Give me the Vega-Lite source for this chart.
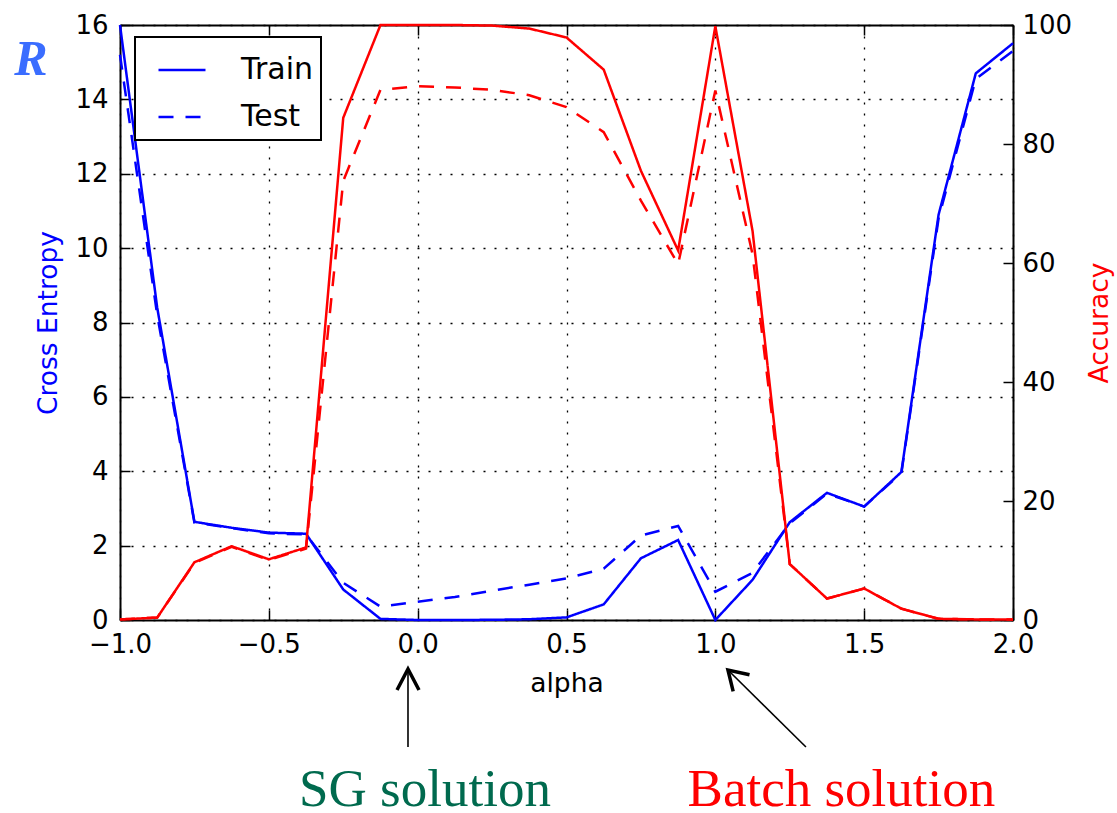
{
  "$schema": "https://vega.github.io/schema/vega-lite/v6.json",
  "width": 893,
  "height": 595,
  "autosize": "none",
  "padding": {"left": 120, "top": 25, "right": 104, "bottom": 193},
  "background": "white",
  "config": {
    "view": {"stroke": null},
    "font": "DejaVu Sans",
    "axis": {"labelFont": "DejaVu Sans", "titleFont": "DejaVu Sans", "titleFontWeight": "normal", "labelColor": "black", "tickColor": "black", "tickWidth": 1.5, "domainColor": "black", "domainWidth": 2, "labelFlush": false, "labelOverlap": false, "labelFontSize": 26, "titleFontSize": 26.5},
    "legend": {"orient": "none", "legendX": 15, "legendY": 12, "symbolType": "stroke", "symbolStrokeWidth": 2.5, "symbolSize": 2209, "symbolStrokeColor": "#0000ff", "symbolOffset": 14, "labelFontSize": 30, "labelFont": "DejaVu Sans", "labelColor": "black", "labelOffset": 34, "strokeColor": "black", "strokeWidth": 2, "padding": 8, "rowPadding": 7, "fillColor": "white"}
  },
  "datasets": {
    "ce": [
      {"alpha": -1, "split": "Train", "ce": 16.0}, {"alpha": -0.875, "split": "Train", "ce": 8.4}, {"alpha": -0.75, "split": "Train", "ce": 2.64}, {"alpha": -0.625, "split": "Train", "ce": 2.48}, {"alpha": -0.5, "split": "Train", "ce": 2.35}, {"alpha": -0.375, "split": "Train", "ce": 2.32}, {"alpha": -0.25, "split": "Train", "ce": 0.82}, {"alpha": -0.125, "split": "Train", "ce": 0.03}, {"alpha": 0, "split": "Train", "ce": 0.0}, {"alpha": 0.125, "split": "Train", "ce": 0.0}, {"alpha": 0.25, "split": "Train", "ce": 0.005}, {"alpha": 0.375, "split": "Train", "ce": 0.02}, {"alpha": 0.5, "split": "Train", "ce": 0.07}, {"alpha": 0.625, "split": "Train", "ce": 0.42}, {"alpha": 0.75, "split": "Train", "ce": 1.66}, {"alpha": 0.875, "split": "Train", "ce": 2.15}, {"alpha": 1, "split": "Train", "ce": 0.0}, {"alpha": 1.125, "split": "Train", "ce": 1.08}, {"alpha": 1.25, "split": "Train", "ce": 2.63}, {"alpha": 1.375, "split": "Train", "ce": 3.42}, {"alpha": 1.5, "split": "Train", "ce": 3.05}, {"alpha": 1.625, "split": "Train", "ce": 3.98}, {"alpha": 1.75, "split": "Train", "ce": 10.9}, {"alpha": 1.875, "split": "Train", "ce": 14.7}, {"alpha": 2, "split": "Train", "ce": 15.51},
      {"alpha": -1, "split": "Test", "ce": 15.2}, {"alpha": -0.875, "split": "Test", "ce": 8.2}, {"alpha": -0.75, "split": "Test", "ce": 2.62}, {"alpha": -0.625, "split": "Test", "ce": 2.47}, {"alpha": -0.5, "split": "Test", "ce": 2.33}, {"alpha": -0.375, "split": "Test", "ce": 2.3}, {"alpha": -0.25, "split": "Test", "ce": 1.0}, {"alpha": -0.125, "split": "Test", "ce": 0.36}, {"alpha": 0, "split": "Test", "ce": 0.49}, {"alpha": 0.125, "split": "Test", "ce": 0.62}, {"alpha": 0.25, "split": "Test", "ce": 0.79}, {"alpha": 0.375, "split": "Test", "ce": 0.95}, {"alpha": 0.5, "split": "Test", "ce": 1.12}, {"alpha": 0.625, "split": "Test", "ce": 1.38}, {"alpha": 0.75, "split": "Test", "ce": 2.27}, {"alpha": 0.875, "split": "Test", "ce": 2.53}, {"alpha": 1, "split": "Test", "ce": 0.76}, {"alpha": 1.125, "split": "Test", "ce": 1.27}, {"alpha": 1.25, "split": "Test", "ce": 2.6}, {"alpha": 1.375, "split": "Test", "ce": 3.4}, {"alpha": 1.5, "split": "Test", "ce": 3.05}, {"alpha": 1.625, "split": "Test", "ce": 3.95}, {"alpha": 1.75, "split": "Test", "ce": 10.8}, {"alpha": 1.875, "split": "Test", "ce": 14.55}, {"alpha": 2, "split": "Test", "ce": 15.3}
    ],
    "acc": [
      {"alpha": -1, "split": "Train", "acc": 0.1}, {"alpha": -0.875, "split": "Train", "acc": 0.4}, {"alpha": -0.75, "split": "Train", "acc": 9.7}, {"alpha": -0.625, "split": "Train", "acc": 12.4}, {"alpha": -0.5, "split": "Train", "acc": 10.2}, {"alpha": -0.375, "split": "Train", "acc": 12.2}, {"alpha": -0.25, "split": "Train", "acc": 84.4}, {"alpha": -0.125, "split": "Train", "acc": 100}, {"alpha": 0, "split": "Train", "acc": 100}, {"alpha": 0.125, "split": "Train", "acc": 100}, {"alpha": 0.25, "split": "Train", "acc": 99.9}, {"alpha": 0.375, "split": "Train", "acc": 99.4}, {"alpha": 0.5, "split": "Train", "acc": 97.9}, {"alpha": 0.625, "split": "Train", "acc": 92.5}, {"alpha": 0.75, "split": "Train", "acc": 75.5}, {"alpha": 0.875, "split": "Train", "acc": 62.1}, {"alpha": 1, "split": "Train", "acc": 99.8}, {"alpha": 1.125, "split": "Train", "acc": 65.4}, {"alpha": 1.25, "split": "Train", "acc": 9.4}, {"alpha": 1.375, "split": "Train", "acc": 3.6}, {"alpha": 1.5, "split": "Train", "acc": 5.3}, {"alpha": 1.625, "split": "Train", "acc": 1.9}, {"alpha": 1.75, "split": "Train", "acc": 0.2}, {"alpha": 1.875, "split": "Train", "acc": 0.1}, {"alpha": 2, "split": "Train", "acc": 0.1},
      {"alpha": -1, "split": "Test", "acc": 0.1}, {"alpha": -0.875, "split": "Test", "acc": 0.4}, {"alpha": -0.75, "split": "Test", "acc": 9.6}, {"alpha": -0.625, "split": "Test", "acc": 12.3}, {"alpha": -0.5, "split": "Test", "acc": 10.1}, {"alpha": -0.375, "split": "Test", "acc": 12.0}, {"alpha": -0.25, "split": "Test", "acc": 73.8}, {"alpha": -0.125, "split": "Test", "acc": 89.1}, {"alpha": 0, "split": "Test", "acc": 89.7}, {"alpha": 0.125, "split": "Test", "acc": 89.5}, {"alpha": 0.25, "split": "Test", "acc": 89.1}, {"alpha": 0.375, "split": "Test", "acc": 88.2}, {"alpha": 0.5, "split": "Test", "acc": 86.2}, {"alpha": 0.625, "split": "Test", "acc": 82.0}, {"alpha": 0.75, "split": "Test", "acc": 70.5}, {"alpha": 0.875, "split": "Test", "acc": 59.8}, {"alpha": 1, "split": "Test", "acc": 89.0}, {"alpha": 1.125, "split": "Test", "acc": 61.5}, {"alpha": 1.25, "split": "Test", "acc": 9.4}, {"alpha": 1.375, "split": "Test", "acc": 3.6}, {"alpha": 1.5, "split": "Test", "acc": 5.3}, {"alpha": 1.625, "split": "Test", "acc": 1.9}, {"alpha": 1.75, "split": "Test", "acc": 0.2}, {"alpha": 1.875, "split": "Test", "acc": 0.1}, {"alpha": 2, "split": "Test", "acc": 0.1}
    ],
    "arrows": [
      {"arrow": "SG", "part": "shaft", "seq": 1, "alpha": -0.0325, "ce": -3.415},
      {"arrow": "SG", "part": "shaft", "seq": 2, "alpha": -0.0325, "ce": -1.318},
      {"arrow": "SG", "part": "head", "seq": 1, "alpha": -0.0694, "ce": -1.882},
      {"arrow": "SG", "part": "head", "seq": 2, "alpha": -0.0325, "ce": -1.318},
      {"arrow": "SG", "part": "head", "seq": 3, "alpha": 0.0045, "ce": -1.882},
      {"arrow": "Batch", "part": "shaft", "seq": 1, "alpha": 1.3044, "ce": -3.415},
      {"arrow": "Batch", "part": "shaft", "seq": 2, "alpha": 1.0424, "ce": -1.3445},
      {"arrow": "Batch", "part": "head", "seq": 1, "alpha": 1.0599, "ce": -1.92},
      {"arrow": "Batch", "part": "head", "seq": 2, "alpha": 1.0424, "ce": -1.3445},
      {"arrow": "Batch", "part": "head", "seq": 3, "alpha": 1.1148, "ce": -1.4736}
    ]
  },
  "layer": [
    {
      "encoding": {
        "x": {"field": "alpha", "type": "quantitative", "scale": {"domain": [-1, 2], "nice": false, "zero": false},
          "axis": {"orient": "bottom", "values": [-1, -0.5, 0, 0.5, 1, 1.5, 2], "format": ".1f", "title": "alpha", "titleColor": "black", "titlePadding": 13, "labelPadding": 21, "tickSize": -10, "grid": true, "gridColor": "black", "gridDash": [2, 9], "gridWidth": 1.3, "gridOpacity": 1}},
        "y": {"field": "ce", "type": "quantitative", "scale": {"domain": [0, 16], "nice": false, "zero": false},
          "axis": {"orient": "left", "values": [0, 2, 4, 6, 8, 10, 12, 14, 16], "format": "d", "title": "Cross Entropy", "titleColor": "#0000ff", "titlePadding": 12, "labelPadding": 22, "tickSize": -10, "grid": true, "gridColor": "black", "gridDash": [2, 9], "gridWidth": 1.3, "gridOpacity": 1}}
      },
      "layer": [
        {
          "data": {"name": "ce"},
          "mark": {"type": "line", "color": "#0000ff", "strokeWidth": 2.5},
          "encoding": {
            "strokeDash": {"field": "split", "type": "nominal", "scale": {"domain": ["Train", "Test"], "range": [[1, 0], [15, 12]]}, "legend": {"title": null}}
          }
        },
        {
          "data": {"name": "arrows"},
          "transform": [{"filter": "datum.part === 'shaft'"}],
          "mark": {"type": "line", "color": "black", "strokeWidth": 1.6, "clip": false},
          "encoding": {"detail": {"field": "arrow"}, "order": {"field": "seq"}}
        },
        {
          "data": {"name": "arrows"},
          "transform": [{"filter": "datum.part === 'head'"}],
          "mark": {"type": "line", "color": "black", "strokeWidth": 3.5, "clip": false, "strokeJoin": "miter"},
          "encoding": {"detail": {"field": "arrow"}, "order": {"field": "seq"}}
        },
        {
          "data": {"values": [{"alpha": 0.0246, "ce": -4.99, "label": "SG solution"}]},
          "mark": {"type": "text", "font": "Liberation Serif", "fontSize": 53, "color": "#006a4e", "align": "center", "baseline": "alphabetic", "clip": false},
          "encoding": {"text": {"field": "label"}}
        },
        {
          "data": {"values": [{"alpha": 1.4237, "ce": -4.99, "label": "Batch solution"}]},
          "mark": {"type": "text", "font": "Liberation Serif", "fontSize": 53, "color": "#ff0000", "align": "center", "baseline": "alphabetic", "clip": false},
          "encoding": {"text": {"field": "label"}}
        },
        {
          "data": {"values": [{"alpha": -1.2989, "ce": 14.655, "label": "R"}]},
          "mark": {"type": "text", "font": "Liberation Serif", "fontSize": 50, "fontWeight": "bold", "fontStyle": "italic", "color": "#3a6dff", "align": "center", "baseline": "alphabetic", "clip": false},
          "encoding": {"text": {"field": "label"}}
        }
      ]
    },
    {
      "data": {"name": "acc"},
      "mark": {"type": "line", "color": "#ff0000", "strokeWidth": 2.5},
      "encoding": {
        "x": {"field": "alpha", "type": "quantitative", "scale": {"domain": [-1, 2], "nice": false, "zero": false},
          "axis": {"orient": "top", "values": [-1, -0.5, 0, 0.5, 1, 1.5, 2], "labels": false, "title": null, "grid": false, "tickSize": -10}},
        "y": {"field": "acc", "type": "quantitative", "scale": {"domain": [0, 100], "nice": false, "zero": false},
          "axis": {"orient": "right", "values": [0, 20, 40, 60, 80, 100], "format": "d", "title": "Accuracy", "titleColor": "#ff0000", "titleAngle": -90, "titlePadding": 42, "labelPadding": 19, "tickSize": -10, "grid": false}},
        "strokeDash": {"field": "split", "type": "nominal"}
      }
    }
  ],
  "resolve": {"scale": {"y": "independent"}, "axis": {"x": "independent"}}
}
